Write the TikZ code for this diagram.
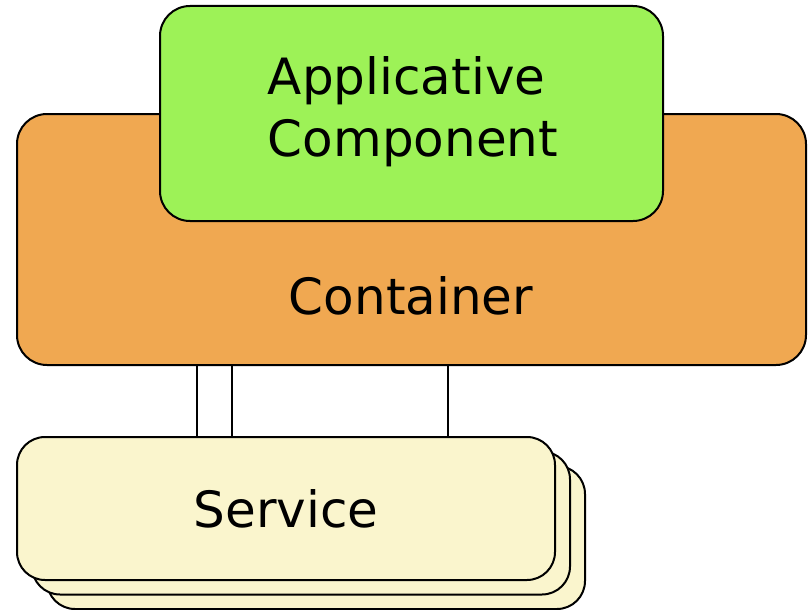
\documentclass[tikz,border=0pt]{standalone}
\usepackage{fontspec}
\setmainfont{DejaVu Sans}
\definecolor{appgreen}{RGB}{157,242,87}
\definecolor{contorange}{RGB}{240,168,81}
\definecolor{servyellow}{RGB}{250,245,205}
\begin{document}
\begin{tikzpicture}[x=1pt,y=-1pt,
  box/.style={draw=black,line width=2pt,rounded corners=30pt,inner sep=0pt,
    font=\fontsize{50}{62}\selectfont,align=left},
  link/.style={draw=black,line width=2pt}]
\useasboundingbox (0,0) rectangle (809,610);
% container with the component sitting on top
\node[box,fill=contorange,minimum width=789pt,minimum height=251pt] (cont) at (411.5,239.5) {};
\node[font=\fontsize{50}{62}\selectfont] (conttext) at (411,296) {Container};
\node[box,fill=appgreen,minimum width=503pt,minimum height=215pt] (app) at (411.5,113.5) {};
\node[font=\fontsize{50}{62}\selectfont,align=left] (apptext) at (413,112) {Applicative\\Component};
% stacked services
\node[box,fill=servyellow,rounded corners=28pt,minimum width=538pt,minimum height=143pt] (s3) at (316,537.5) {};
\node[box,fill=servyellow,rounded corners=28pt,minimum width=538pt,minimum height=143pt] (s2) at (301,523) {};
\node[box,fill=servyellow,rounded corners=28pt,minimum width=538pt,minimum height=143pt] (s1) at (286,508.5) {Service};
% connections between container and service
\draw[link] (cont.south -| 197,0) -- (s1.north -| 197,0);
\draw[link] (cont.south -| 232,0) -- (s1.north -| 232,0);
\draw[link] (cont.south -| 448,0) -- (s1.north -| 448,0);
\end{tikzpicture}
\end{document}
